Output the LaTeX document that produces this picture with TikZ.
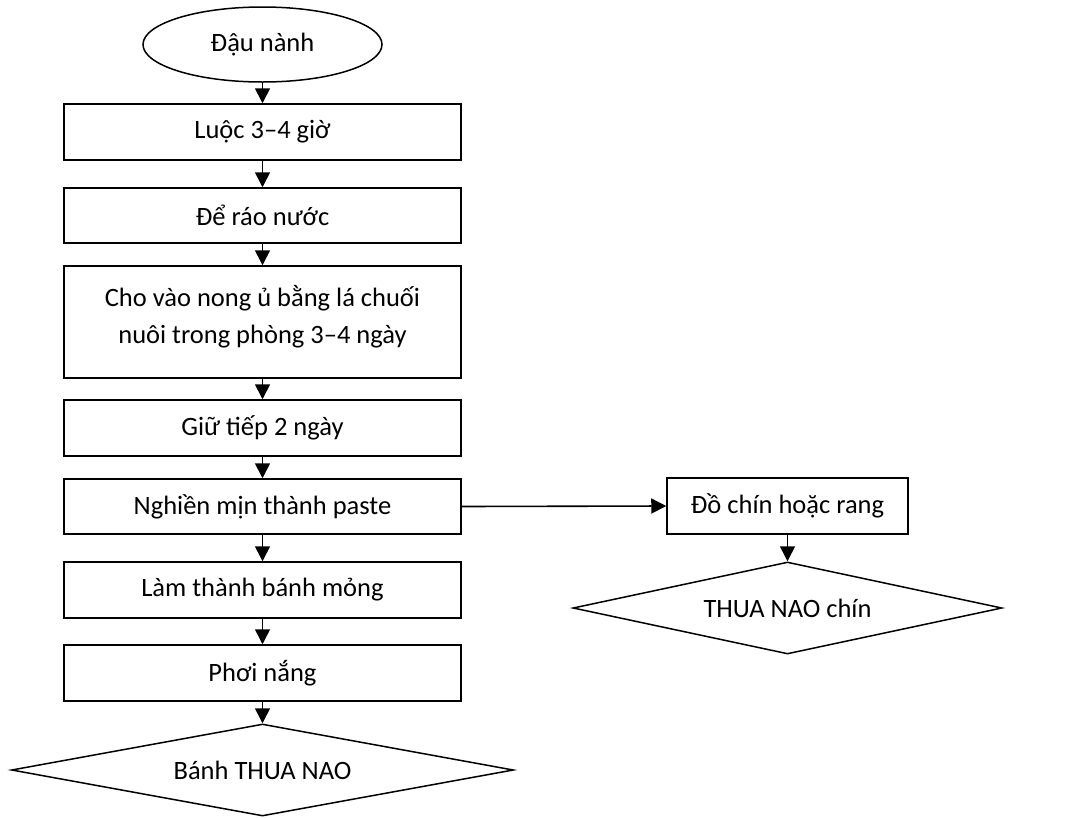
\documentclass[tikz,border=0pt]{standalone}
\usepackage{fontspec}
\setmainfont{Carlito}
\usetikzlibrary{shapes.geometric,arrows.meta}
\tikzset{
  base/.style={draw=black, line width=1.5pt, inner sep=0pt, align=center,
    font=\fontsize{26.5pt}{37pt}\selectfont},
  stepbox/.style={base, rectangle, minimum width=397pt, minimum height=56pt},
  startnode/.style={base, ellipse, minimum width=239pt, minimum height=75pt},
  flow/.style={line width=1.6pt, -{Triangle[length=15pt,width=15pt]}}
}
\begin{document}
\begin{tikzpicture}[x=1pt,y=-1pt]
\useasboundingbox (0,0) rectangle (1076,817);
% main column
\node[startnode] (s) at (262.5,44.5) {Đậu nành};
\node[stepbox] (b1) at (262.5,132) {Luộc 3–4 giờ};
\node[stepbox, minimum height=55pt] (b2) at (262.5,215.5) {Để ráo nước};
\node[stepbox, minimum height=112pt] (b3) at (262.5,322)
  {Cho vào nong ủ bằng lá chuối\\nuôi trong phòng 3–4 ngày\\[-22pt]\mbox{}};
\node[stepbox] (b4) at (262.5,428) {Giữ tiếp 2 ngày};
\node[stepbox, minimum height=55pt] (b5) at (262.5,506.5) {Nghiền mịn thành paste};
\node[stepbox] (b6) at (262.5,590) {Làm thành bánh mỏng};
\node[stepbox] (b7) at (262.5,673) {Phơi nắng};
\node[base, diamond, minimum width=502pt, minimum height=92pt, aspect=5.45] (d1) at (262.5,770) {Bánh THUA NAO};
% side branch
\node[stepbox, minimum width=241pt] (r1) at (787.5,506) {Đồ chín hoặc rang};
\node[base, diamond, minimum width=429pt, minimum height=92pt, aspect=4.66] (d2) at (787.5,608) {THUA NAO chín};
% connectors
\draw[flow] (s.south) -- (b1.north);
\draw[flow] (b1.south) -- (b2.north);
\draw[flow] (b2.south) -- (b3.north);
\draw[flow] (b3.south) -- (b4.north);
\draw[flow] (b4.south) -- (b5.north);
\draw[flow] (b5.south) -- (b6.north);
\draw[flow] (b6.south) -- (b7.north);
\draw[flow] (b7.south) -- (d1.north);
\draw[flow] (b5.east) -- (r1.west);
\draw[flow] (r1.south) -- (d2.north);
\end{tikzpicture}
\end{document}
